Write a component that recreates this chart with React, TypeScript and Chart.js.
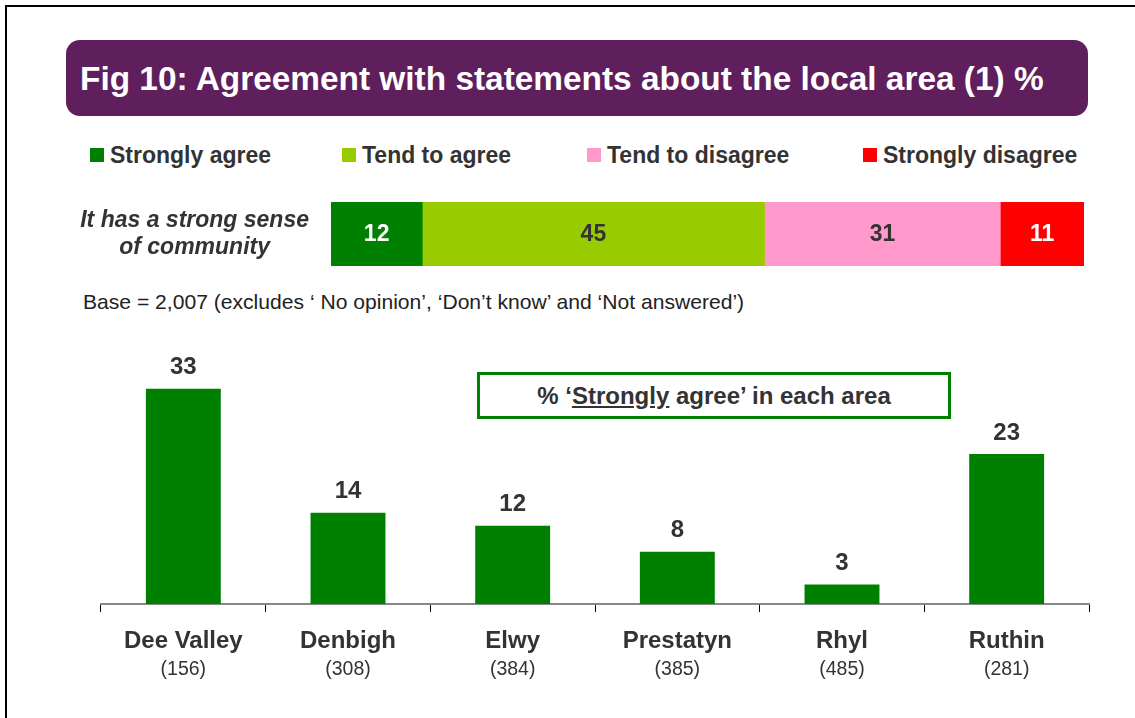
import React, { useEffect, useRef } from "react";
import { Chart, registerables } from "chart.js";

Chart.register(...registerables);

const FONT = 'Arial, "Liberation Sans", Helvetica, sans-serif';
const TEXT = "#333333";

const titleText = "Fig 10: Agreement with statements about the local area (1) %";
const baseText = "Base = 2,007 (excludes \u2018 No opinion\u2019, \u2018Don\u2019t know\u2019 and \u2018Not answered\u2019)";

const segmentLabels = ["Strongly agree", "Tend to agree", "Tend to disagree", "Strongly disagree"];
const segmentValues = [12, 45, 31, 11];
const segmentColors = ["#008000", "#99CC00", "#FF99CC", "#FF0000"];
const segmentTextColors = ["#FFFFFF", TEXT, TEXT, "#FFFFFF"];
const statementLabel = ["It has a strong sense", "of community"];

const areas = ["Dee Valley", "Denbigh", "Elwy", "Prestatyn", "Rhyl", "Ruthin"];
const areaBases = ["(156)", "(308)", "(384)", "(385)", "(485)", "(281)"];
const stronglyAgreeByArea = [33, 14, 12, 8, 3, 23];

const legendX = [90, 342, 587, 863];

const stackLabelPlugin = {
  id: "stackLabels",
  afterDatasetsDraw(chart: any) {
    const ctx = chart.ctx;
    ctx.save();
    ctx.font = `bold 23px ${FONT}`;
    ctx.textAlign = "center";
    ctx.textBaseline = "middle";
    chart.data.datasets.forEach((ds: any, i: number) => {
      const meta = chart.getDatasetMeta(i);
      meta.data.forEach((el: any, j: number) => {
        const cx = (el.x + el.base) / 2;
        ctx.fillStyle = segmentTextColors[i];
        ctx.fillText(String(ds.data[j]), cx, el.y + 1);
      });
    });
    ctx.restore();
  },
};

const valueLabelPlugin = {
  id: "valueLabels",
  afterDatasetsDraw(chart: any) {
    const ctx = chart.ctx;
    ctx.save();
    ctx.font = `bold 24px ${FONT}`;
    ctx.textAlign = "center";
    ctx.textBaseline = "middle";
    ctx.fillStyle = TEXT;
    const meta = chart.getDatasetMeta(0);
    meta.data.forEach((el: any, j: number) => {
      ctx.fillText(String(chart.data.datasets[0].data[j]), el.x, el.y - 21);
    });
    ctx.restore();
  },
};

export default function App() {
  const topRef = useRef<HTMLCanvasElement>(null);
  const bottomRef = useRef<HTMLCanvasElement>(null);

  useEffect(() => {
    const total = segmentValues.reduce((a, b) => a + b, 0);
    const top = new Chart(topRef.current as HTMLCanvasElement, {
      type: "bar",
      data: {
        labels: [statementLabel as any],
        datasets: segmentLabels.map((l, i) => ({
          label: l,
          data: [segmentValues[i]],
          backgroundColor: segmentColors[i],
          borderWidth: 0,
          barPercentage: 1,
          categoryPercentage: 1,
        })),
      },
      options: {
        indexAxis: "y",
        responsive: false,
        animation: false,
        layout: { padding: { left: 0, right: 51, top: 30, bottom: 30 } },
        plugins: { legend: { display: false }, tooltip: { enabled: false } },
        scales: {
          x: { stacked: true, display: false, min: 0, max: total },
          y: {
            stacked: true,
            grid: { display: false, drawTicks: false },
            border: { display: false },
            ticks: {
              color: TEXT,
              padding: 22,
              crossAlign: "center",
              font: { family: FONT, size: 23, weight: "bold", style: "italic", lineHeight: 1.17 },
            },
            afterFit: (s: any) => {
              s.width = 331;
              s.paddingTop = 0;
              s.paddingBottom = 0;
            },
          },
        },
      } as any,
      plugins: [stackLabelPlugin],
    });

    const bottom = new Chart(bottomRef.current as HTMLCanvasElement, {
      type: "bar",
      data: {
        labels: areas,
        datasets: [
          {
            label: "Strongly agree",
            data: stronglyAgreeByArea,
            backgroundColor: "#008000",
            borderWidth: 0,
            barPercentage: 0.455,
            categoryPercentage: 1,
          },
        ],
      },
      options: {
        responsive: false,
        animation: false,
        layout: { padding: { left: 101, right: 46, top: 13, bottom: 34 } },
        plugins: { legend: { display: false }, tooltip: { enabled: false } },
        scales: {
          y: { display: false, min: 0, max: 40 },
          x: {
            position: "bottom",
            offset: true,
            grid: { display: true, drawOnChartArea: false, drawTicks: true, tickLength: 8, color: "#000000", offset: true },
            border: { display: true, color: "#888888", width: 2 },
            ticks: { color: TEXT, padding: 15, font: { family: FONT, size: 24, weight: "bold" } },
            afterFit: (s: any) => {
              s.height = 50;
            },
          },
          x2: {
            type: "category",
            position: "bottom",
            labels: areaBases,
            offset: true,
            grid: { display: false, drawTicks: false },
            border: { display: false },
            ticks: { color: TEXT, padding: 4, font: { family: FONT, size: 19.5 } },
            afterFit: (s: any) => {
              s.height = 30;
            },
          },
        },
      } as any,
      plugins: [valueLabelPlugin],
    });

    return () => {
      top.destroy();
      bottom.destroy();
    };
  }, []);

  return (
    <div style={{ position: "absolute", left: 0, top: 0, width: 1135, height: 718, background: "#fff", fontFamily: FONT, overflow: "hidden" }}>
      <div style={{ position: "absolute", left: 5, top: 5, width: 1130, height: 713, borderLeft: "2px solid #000", borderTop: "2px solid #000", boxSizing: "border-box" }} />
      <div
        style={{
          position: "absolute",
          left: 66,
          top: 40,
          width: 1022,
          height: 76,
          background: "#5E1F5C",
          borderRadius: 14,
          color: "#fff",
          fontWeight: "bold",
          fontSize: 33.4,
          lineHeight: "78px",
          paddingLeft: 14,
          boxSizing: "border-box",
          whiteSpace: "nowrap",
        }}
      >
        {titleText}
      </div>
      {segmentLabels.map((l, i) => (
        <div key={l} style={{ position: "absolute", left: legendX[i], top: 142, height: 26, display: "flex", alignItems: "center", whiteSpace: "nowrap" }}>
          <span style={{ display: "inline-block", width: 14, height: 14, background: segmentColors[i], marginRight: 6 }} />
          <span style={{ fontSize: 23, fontWeight: "bold", color: TEXT }}>{l}</span>
        </div>
      ))}
      <div style={{ position: "absolute", left: 83, top: 290, fontSize: 21.1, color: "#222", whiteSpace: "nowrap" }}>{baseText}</div>
      <canvas ref={topRef} width={1135} height={124} style={{ position: "absolute", left: 0, top: 172, display: "block" }} />
      <canvas ref={bottomRef} width={1135} height={388} style={{ position: "absolute", left: 0, top: 330, display: "block" }} />
      <div
        style={{
          position: "absolute",
          left: 477,
          top: 372,
          width: 474,
          height: 47,
          border: "3px solid #008000",
          boxSizing: "border-box",
          background: "#fff",
          display: "flex",
          alignItems: "center",
          justifyContent: "center",
          fontSize: 24,
          fontWeight: "bold",
          color: TEXT,
          whiteSpace: "nowrap",
        }}
      >
        <span>
          % {"\u2018"}
          <span style={{ textDecoration: "underline" }}>Strongly</span> agree{"\u2019"} in each area
        </span>
      </div>
    </div>
  );
}
